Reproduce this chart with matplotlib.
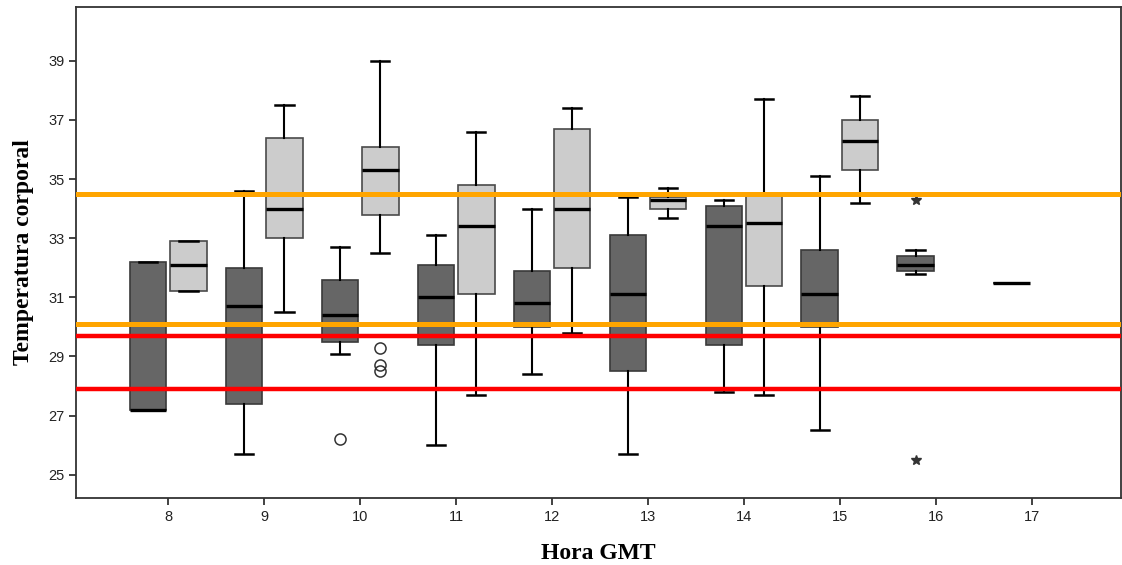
import matplotlib.pyplot as plt

# hourly body temperature, two groups per hour
hours = [8, 9, 10, 11, 12, 13, 14, 15, 16, 17]

dark_lo  = [27.2, 25.7, 29.1, 26.0, 28.4, 25.7, 27.8, 26.5, 31.8, 31.5]
dark_q1  = [27.2, 27.4, 29.5, 29.4, 30.0, 28.5, 29.4, 30.0, 31.9, 31.5]
dark_med = [27.2, 30.7, 30.4, 31.0, 30.8, 31.1, 33.4, 31.1, 32.1, 31.5]
dark_q3  = [32.2, 32.0, 31.6, 32.1, 31.9, 33.1, 34.1, 32.6, 32.4, 31.5]
dark_hi  = [32.2, 34.6, 32.7, 33.1, 34.0, 34.4, 34.3, 35.1, 32.6, 31.5]

light_hours = [8, 9, 10, 11, 12, 13, 14, 15]
light_lo  = [31.2, 30.5, 32.5, 27.7, 29.8, 33.7, 27.7, 34.2]
light_q1  = [31.2, 33.0, 33.8, 31.1, 32.0, 34.0, 31.4, 35.3]
light_med = [32.1, 34.0, 35.3, 33.4, 34.0, 34.3, 33.5, 36.3]
light_q3  = [32.9, 36.4, 36.1, 34.8, 36.7, 34.4, 34.5, 37.0]
light_hi  = [32.9, 37.5, 39.0, 36.6, 37.4, 34.7, 37.7, 37.8]

# outliers (circles) and extremes (stars)
circ_dark = {10: [26.2]}
circ_light = {10: [29.3, 28.7, 28.5]}
star_dark = {16: [34.3, 25.5]}

# reference limits
orange_lines = [34.5, 30.1]
red_lines = [29.7, 27.9]

off = 0.21
w = 0.38


def stats(lo, q1, med, q3, hi):
    return [dict(whislo=a, q1=b, med=c, q3=d, whishi=e, fliers=[])
            for a, b, c, d, e in zip(lo, q1, med, q3, hi)]


fig = plt.figure(figsize=(11.22, 5.65), dpi=100)
ax = fig.add_axes([0.068, 0.119, 0.931, 0.869])

box_kw = dict(widths=w, capwidths=w * 0.5, patch_artist=True, showfliers=False,
              whiskerprops=dict(color="black", lw=1.5),
              capprops=dict(color="black", lw=1.8),
              medianprops=dict(color="black", lw=2.4))

ax.bxp(stats(dark_lo, dark_q1, dark_med, dark_q3, dark_hi),
       positions=[h - off for h in hours],
       boxprops=dict(facecolor="#666666", edgecolor="#3a3a3a", lw=1.2), **box_kw)
ax.bxp(stats(light_lo, light_q1, light_med, light_q3, light_hi),
       positions=[h + off for h in light_hours],
       boxprops=dict(facecolor="#cccccc", edgecolor="#4a4a4a", lw=1.2), **box_kw)

for h, vals in circ_dark.items():
    ax.plot([h - off] * len(vals), vals, "o", mfc="none", mec="#333333", ms=8, mew=1.1)
for h, vals in circ_light.items():
    ax.plot([h + off] * len(vals), vals, "o", mfc="none", mec="#333333", ms=8, mew=1.1)
for h, vals in star_dark.items():
    ax.plot([h - off] * len(vals), vals, "*", color="#333333", ms=7)

for y in orange_lines:
    ax.axhline(y, color="#ffa500", lw=3.6, zorder=5)
for y in red_lines:
    ax.axhline(y, color="#ff0000", lw=3.2, zorder=5)

ax.set_xlim(7.04, 17.93)
ax.set_ylim(24.22, 40.83)
ax.set_xticks(hours)
ax.set_xticklabels([str(h) for h in hours])
ax.set_yticks([25, 27, 29, 31, 33, 35, 37, 39])
ax.tick_params(direction="out", length=5, width=1.3, color="#333333",
               labelsize=10.5, labelcolor="#222222", labelfontfamily="Liberation Sans")
for s in ax.spines.values():
    s.set_color("#333333")
    s.set_linewidth(1.3)

ax.set_xlabel("Hora GMT", family="Liberation Serif", weight="bold", fontsize=17, labelpad=14)
ax.set_ylabel("Temperatura corporal", family="Liberation Serif", weight="bold", fontsize=17, labelpad=10)

fig.savefig("out.png", dpi=100)
